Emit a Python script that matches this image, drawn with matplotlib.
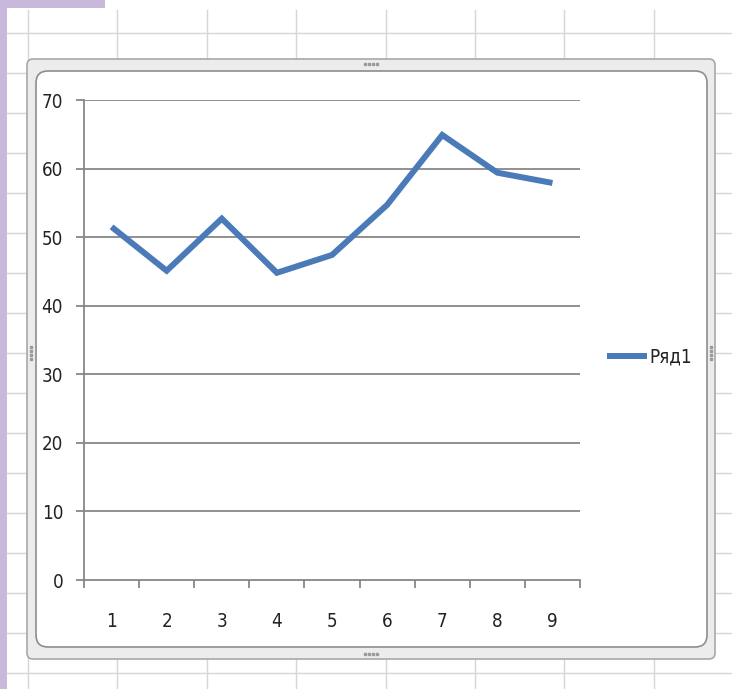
import matplotlib
matplotlib.use("Agg")
import matplotlib.pyplot as plt
from matplotlib.patches import Rectangle, FancyBboxPatch

categories = [1, 2, 3, 4, 5, 6, 7, 8, 9]
values = [51.5, 45.1, 52.7, 44.8, 47.4, 54.7, 64.9, 59.4, 57.9]
y_ticks = [0, 10, 20, 30, 40, 50, 60, 70]
series_name = "Ряд1"

W, H = 732, 689
LINE_BLUE = "#4a7ab7"
AXIS_GRAY = "#878787"
SHEET_GRAY = "#d6d6d6"
PURPLE = "#c9b8dc"

plt.rcParams['font.family'] = ['DejaVu Sans']
plt.rcParams['font.stretch'] = 'condensed'


def draw_sheet(bg):
   # worksheet cells behind the chart
   for x in [28 + 89.4 * k for k in range(8)]:
      bg.plot([x, x], [10, H], color=SHEET_GRAY, lw=1, zorder=0)
   for y in [33 + 40 * k for k in range(17)]:
      bg.plot([7, W], [y, y], color=SHEET_GRAY, lw=1, zorder=0)

   # slide decoration on the left
   bg.add_patch(Rectangle((0, 0), 7, H, color=PURPLE, lw=0, zorder=5))
   bg.add_patch(Rectangle((0, 0), 105, 8, color=PURPLE, lw=0, zorder=5))


def draw_frame(bg):
   # selected chart border
   bg.add_patch(FancyBboxPatch((27, 59), 688, 600, boxstyle="round,pad=0,rounding_size=6",
                               facecolor="#ececec", edgecolor="#a8a8a8", lw=1.2, zorder=2))
   bg.add_patch(FancyBboxPatch((36, 71), 671, 576, boxstyle="round,pad=0,rounding_size=12",
                               facecolor="white", edgecolor="#8e8e8e", lw=1.2, zorder=3))
   # sizing handles
   for cx in [365, 369, 373, 377]:
      bg.plot([cx], [64], marker="s", ms=1.5, color="#9a9a9a", zorder=4)
      bg.plot([cx], [654], marker="s", ms=1.5, color="#9a9a9a", zorder=4)
   for cy in [347, 351, 355, 359]:
      bg.plot([31], [cy], marker="s", ms=1.5, color="#9a9a9a", zorder=4)
      bg.plot([711], [cy], marker="s", ms=1.5, color="#9a9a9a", zorder=4)


def plot_chart(fig):
   left, right, top, bottom = 84, 580, 100, 580
   ax = fig.add_axes([left / W, 1 - bottom / H, (right - left) / W, (bottom - top) / H])
   ax.set_facecolor("none")

   for v in y_ticks[1:]:
      ax.axhline(v, color=AXIS_GRAY, lw=1.3, zorder=1)

   ax.plot(categories, values, color=LINE_BLUE, lw=4.3, solid_joinstyle="miter",
           solid_capstyle="butt", label=series_name, zorder=3)

   ax.set_xlim(0.5, len(categories) + 0.5)
   ax.set_ylim(0, 70)

   ax.set_xticks([c - 0.5 for c in categories] + [len(categories) + 0.5])
   ax.set_xticklabels([])
   ax.set_xticks(categories, minor=True)
   ax.set_xticklabels([str(c) for c in categories], minor=True)
   ax.tick_params(axis="x", which="major", length=6, width=1.3, color=AXIS_GRAY, direction="out")
   ax.tick_params(axis="x", which="minor", length=0, pad=23, labelsize=13.5, labelcolor="#222222")

   ax.set_yticks(y_ticks)
   ax.set_yticklabels([str(v) for v in y_ticks])
   ax.tick_params(axis="y", length=6, width=1.3, color=AXIS_GRAY, pad=9, labelsize=13.5,
                  labelcolor="#222222")

   for side in ["top", "right"]:
      ax.spines[side].set_visible(False)
   for side in ["left", "bottom"]:
      ax.spines[side].set_color(AXIS_GRAY)
      ax.spines[side].set_linewidth(1.3)

   leg = ax.legend(loc="center left", bbox_to_anchor=(598 / W, 1 - 357 / H),
                   bbox_transform=fig.transFigure, frameon=False, fontsize=13.5,
                   handlelength=2.1, handletextpad=0.15, borderpad=0)
   for t in leg.get_texts():
      t.set_color("#222222")


def main():
   fig = plt.figure(figsize=(W / 100, H / 100), dpi=100)
   bg = fig.add_axes([0, 0, 1, 1])
   bg.set_xlim(0, W)
   bg.set_ylim(H, 0)
   bg.axis("off")

   draw_sheet(bg)
   draw_frame(bg)
   plot_chart(fig)

   fig.savefig("out.png", dpi=100)
   plt.close(fig)


if __name__ == "__main__":
   main()
